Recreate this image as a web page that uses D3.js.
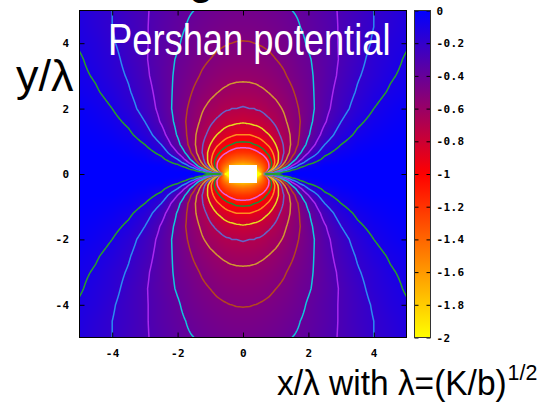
<!DOCTYPE html>
<html><head><meta charset="utf-8">
<script src="https://cdn.jsdelivr.net/npm/d3@7"></script>
<style>html,body{margin:0;padding:0;background:#fff;overflow:hidden}svg{display:block}</style>
</head><body>
<script>
// Sample nodes of the potential on one quadrant (x >= 0, y >= 0); the field is mirror-symmetric in x and y.
const xNodes = [0, 0.2, 0.35, 0.42, 0.5, 0.6, 0.7, 0.8, 1.0, 1.25, 1.5, 1.75, 2.0, 2.5, 3.0, 3.5, 4.0, 4.5, 5.0];
const yNodes = [0, 0.02, 0.06, 0.12, 0.2, 0.27, 0.35, 0.45, 0.65, 0.9, 1.2, 1.6, 2.0, 2.5, 3.0, 3.5, 4.0, 4.5, 5.0];
// Potential values, one row per y node; null marks the excluded core around the origin.
const potential = [
  [null, null, null, -3.00, -3.00, -1.50, 0, 0, 0, 0, 0, 0, 0, 0, 0, 0, 0, 0, 0],
  [null, null, null, -2.45, -2.07, -1.50, -0.93, -0.48, -0.07, 0, 0, 0, 0, 0, 0, 0, 0, 0, 0],
  [null, null, null, -2.09, -1.84, -1.50, -1.16, -0.85, -0.37, -0.09, -0.01, 0, 0, 0, 0, 0, 0, 0, 0],
  [null, null, null, -1.87, -1.71, -1.48, -1.25, -1.02, -0.62, -0.28, -0.10, -0.03, -0.01, 0, 0, 0, 0, 0, 0],
  [null, null, null, -1.68, -1.57, -1.41, -1.25, -1.09, -0.77, -0.45, -0.23, -0.10, -0.04, 0, 0, 0, 0, 0, 0],
  [-1.76, -1.71, -1.61, -1.54, -1.46, -1.35, -1.22, -1.09, -0.84, -0.55, -0.32, -0.17, -0.08, -0.01, 0, 0, 0, 0, 0],
  [-1.58, -1.54, -1.47, -1.42, -1.36, -1.27, -1.18, -1.08, -0.87, -0.62, -0.40, -0.25, -0.14, -0.03, -0.01, 0, 0, 0, 0],
  [-1.42, -1.39, -1.34, -1.30, -1.26, -1.19, -1.12, -1.04, -0.87, -0.66, -0.47, -0.32, -0.20, -0.07, -0.02, 0, 0, 0, 0],
  [-1.20, -1.19, -1.15, -1.13, -1.10, -1.06, -1.01, -0.96, -0.85, -0.70, -0.55, -0.41, -0.30, -0.13, -0.05, -0.02, 0, 0, 0],
  [-1.04, -1.03, -1.00, -0.99, -0.97, -0.94, -0.91, -0.88, -0.80, -0.69, -0.58, -0.47, -0.37, -0.20, -0.10, -0.04, -0.02, -0.01, 0],
  [-0.90, -0.90, -0.88, -0.87, -0.86, -0.84, -0.82, -0.80, -0.74, -0.66, -0.58, -0.49, -0.41, -0.26, -0.15, -0.08, -0.04, -0.02, -0.01],
  [-0.79, -0.78, -0.77, -0.77, -0.76, -0.75, -0.73, -0.72, -0.68, -0.62, -0.56, -0.50, -0.43, -0.31, -0.20, -0.12, -0.07, -0.04, -0.02],
  [-0.71, -0.70, -0.70, -0.69, -0.69, -0.68, -0.67, -0.65, -0.63, -0.59, -0.54, -0.49, -0.44, -0.33, -0.24, -0.16, -0.10, -0.06, -0.03],
  [-0.635, -0.633, -0.628, -0.625, -0.619, -0.613, -0.605, -0.597, -0.576, -0.545, -0.51, -0.47, -0.43, -0.34, -0.26, -0.19, -0.13, -0.09, -0.06],
  [-0.580, -0.579, -0.575, -0.573, -0.569, -0.564, -0.558, -0.551, -0.535, -0.510, -0.48, -0.45, -0.42, -0.35, -0.28, -0.21, -0.16, -0.11, -0.08],
  [-0.538, -0.536, -0.533, -0.531, -0.529, -0.525, -0.520, -0.515, -0.501, -0.483, -0.46, -0.43, -0.41, -0.35, -0.29, -0.23, -0.17, -0.13, -0.09],
  [-0.504, -0.503, -0.500, -0.499, -0.496, -0.493, -0.489, -0.485, -0.474, -0.458, -0.44, -0.42, -0.39, -0.34, -0.29, -0.24, -0.19, -0.14, -0.11],
  [-0.476, -0.475, -0.473, -0.471, -0.469, -0.466, -0.463, -0.459, -0.450, -0.436, -0.42, -0.40, -0.38, -0.34, -0.29, -0.24, -0.20, -0.16, -0.12],
  [-0.452, -0.451, -0.449, -0.448, -0.446, -0.443, -0.440, -0.437, -0.430, -0.418, -0.40, -0.39, -0.37, -0.33, -0.29, -0.25, -0.20, -0.17, -0.13]
];
const contourLevels = [-1.1, -1.0, -0.9, -0.8, -0.7, -0.6, -0.5, -0.4, -0.3, -0.2, -0.1];
const contourColors = ["#e664dc", "#1e8c3c", "#ff8c1e", "#e6dc1e", "#6464c8", "#d29632", "#b4461e", "#10c8dc", "#aa28f0", "#2a8cf0", "#28a028"];
const axisTicks = [-4, -2, 0, 2, 4];
const colorTicks = [0, -0.2, -0.4, -0.6, -0.8, -1, -1.2, -1.4, -1.6, -1.8, -2];
const paletteDomain = [-2, -1, 0];
const paletteColors = ["#ffff00", "#ff0000", "#0000ff"];

const W = 543, H = 410;
const svg = d3.select("body").append("svg").attr("width", W).attr("height", H);

const x = d3.scaleLinear().domain([-5, 5]).range([79.5, 406.5]);
const y = d3.scaleLinear().domain([-5, 5]).range([337.5, 10.5]);
const cb = d3.scaleLinear().domain([-2, 0]).range([337.5, 10.5]);
const color = d3.scaleLinear().domain(paletteDomain).range(paletteColors).clamp(true);

// bilinear lookup in the mirrored quadrant table
function lookup(px, py) {
  const ax = Math.min(Math.abs(px), 5), ay = Math.min(Math.abs(py), 5);
  const i = Math.min(d3.bisectRight(xNodes, ax) - 1, xNodes.length - 2);
  const j = Math.min(d3.bisectRight(yNodes, ay) - 1, yNodes.length - 2);
  const tx = (ax - xNodes[i]) / (xNodes[i + 1] - xNodes[i]);
  const ty = (ay - yNodes[j]) / (yNodes[j + 1] - yNodes[j]);
  const v00 = potential[j][i], v10 = potential[j][i + 1];
  const v01 = potential[j + 1][i], v11 = potential[j + 1][i + 1];
  if (v00 == null || v10 == null || v01 == null || v11 == null) return null;
  return (v00 * (1 - tx) + v10 * tx) * (1 - ty) + (v01 * (1 - tx) + v11 * tx) * ty;
}

const defs = svg.append("defs");
defs.append("clipPath").attr("id", "plotClip")
  .append("rect").attr("x", x(-5)).attr("y", y(5)).attr("width", x(5) - x(-5)).attr("height", y(-5) - y(5));

// colour map raster
const cx0 = 79, cy0 = 10, cw = 328, ch = 328;
const canvas = document.createElement("canvas");
canvas.width = cw; canvas.height = ch;
const ctx = canvas.getContext("2d");
const img = ctx.createImageData(cw, ch);
for (let r = 0; r < ch; r++) {
  for (let c = 0; c < cw; c++) {
    const v = lookup(x.invert(cx0 + c + 0.5), y.invert(cy0 + r + 0.5));
    const k = 4 * (r * cw + c);
    const col = v == null ? {r: 255, g: 255, b: 255} : d3.rgb(color(v));
    img.data[k] = col.r; img.data[k + 1] = col.g; img.data[k + 2] = col.b; img.data[k + 3] = 255;
  }
}
ctx.putImageData(img, 0, 0);
svg.append("image").attr("x", cx0).attr("y", cy0).attr("width", cw).attr("height", ch)
  .attr("clip-path", "url(#plotClip)").attr("href", canvas.toDataURL());

// contour lines
const step = 0.05, g0 = -5.5, n = 221;
const gridVals = new Array(n * n);
for (let j = 0; j < n; j++) for (let i = 0; i < n; i++) {
  const v = lookup(g0 + i * step, g0 + j * step);
  gridVals[j * n + i] = v == null ? -3 : v;
}
const proj = d3.geoTransform({
  point(px, py) { this.stream.point(x(g0 + (px - 0.5) * step), y(g0 + (py - 0.5) * step)); }
});
const path = d3.geoPath(proj);
const contours = d3.contours().size([n, n]).thresholds(contourLevels)(gridVals);
svg.append("g").attr("clip-path", "url(#plotClip)")
  .selectAll("path").data(contours).join("path")
  .attr("d", path)
  .attr("fill", "none")
  .attr("stroke", (d, i) => contourColors[i])
  .attr("stroke-width", 1.5)
  .attr("stroke-linejoin", "round");

// axes with inward ticks on all four sides
function styleAxis(g) {
  g.attr("font-family", "DejaVu Sans Mono").attr("font-size", 11).attr("font-weight", "bold").attr("color", "#000");
  g.select(".domain").remove();
  g.selectAll(".tick text").filter(function () { return this.textContent === ""; }).remove();
  g.selectAll(".tick text").attr("letter-spacing", "0.4px").attr("fill", "#000");
}
svg.append("g").attr("transform", `translate(0,${y(-5)})`)
  .call(d3.axisBottom(x).tickValues(axisTicks).tickSize(-5).tickPadding(12).tickFormat(String)).call(styleAxis);
svg.append("g").attr("transform", `translate(0,${y(5)})`)
  .call(d3.axisTop(x).tickValues(axisTicks).tickSize(-5).tickFormat("")).call(styleAxis);
svg.append("g").attr("transform", `translate(${x(-5)},0)`)
  .call(d3.axisLeft(y).tickValues(axisTicks).tickSize(-5).tickPadding(10).tickFormat(String)).call(styleAxis);
svg.append("g").attr("transform", `translate(${x(5)},0)`)
  .call(d3.axisRight(y).tickValues(axisTicks).tickSize(-5).tickFormat("")).call(styleAxis);
svg.append("rect").attr("x", x(-5)).attr("y", y(5)).attr("width", x(5) - x(-5)).attr("height", y(-5) - y(5))
  .attr("fill", "none").attr("stroke", "#000").attr("stroke-width", 1);

// colour box
const cbL = 414.5, cbR = 430.5;
const grad = defs.append("linearGradient").attr("id", "cbGrad")
  .attr("x1", 0).attr("y1", 1).attr("x2", 0).attr("y2", 0);
grad.selectAll("stop").data(paletteDomain).join("stop")
  .attr("offset", d => (d - paletteDomain[0]) / (paletteDomain[2] - paletteDomain[0]))
  .attr("stop-color", d => color(d));
svg.append("rect").attr("x", cbL).attr("y", cb(0)).attr("width", cbR - cbL).attr("height", cb(-2) - cb(0))
  .attr("fill", "url(#cbGrad)");
svg.append("g").attr("transform", `translate(${cbR},0)`)
  .call(d3.axisRight(cb).tickValues(colorTicks).tickSize(-4).tickPadding(6).tickFormat(String)).call(styleAxis);
svg.append("g").attr("transform", `translate(${cbL},0)`)
  .call(d3.axisLeft(cb).tickValues(colorTicks).tickSize(-4).tickFormat("")).call(styleAxis);
svg.append("rect").attr("x", cbL).attr("y", cb(0)).attr("width", cbR - cbL).attr("height", cb(-2) - cb(0))
  .attr("fill", "none").attr("stroke", "#333").attr("stroke-width", 1);

// titles and axis labels
const sans = "Liberation Sans, Arial, sans-serif";
svg.append("text").attr("transform", "translate(108,55) scale(0.825,1)").attr("fill", "#fff")
  .attr("font-family", sans).attr("font-size", 44).text("Pershan potential");
svg.append("text").attr("x", 16).attr("y", 90.5).attr("fill", "#000")
  .attr("font-family", sans).attr("font-size", 45).text("y/λ");
const xLabel = svg.append("text").attr("transform", "translate(277,395) scale(0.93,1)")
  .attr("fill", "#000").attr("font-family", sans).attr("font-size", 36);
xLabel.append("tspan").text("x/λ with λ=(K/b)");
xLabel.append("tspan").attr("font-size", 23).attr("dx", 1).attr("dy", -15).text("1/2");
svg.append("text").attr("x", 189).attr("y", -6).attr("fill", "#000")
  .attr("font-family", sans).attr("font-size", 44).text("g");
</script></body></html>
